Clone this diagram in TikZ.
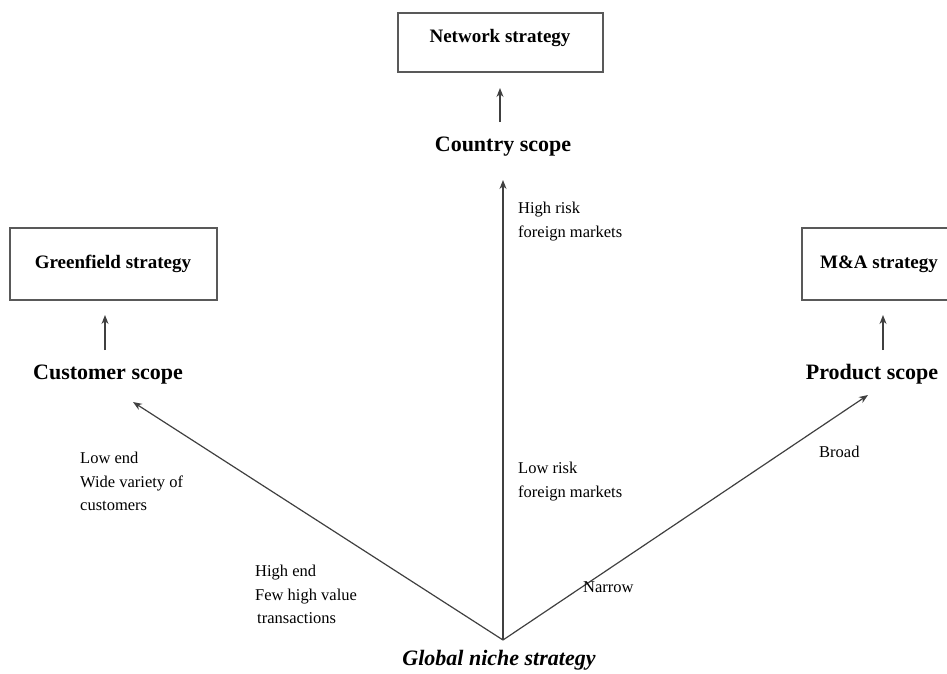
\documentclass[tikz,border=0pt]{standalone}
\usepackage{fontspec}
\setmainfont{Liberation Serif}
\usetikzlibrary{arrows.meta}
\begin{document}
\begin{tikzpicture}[x=1pt,y=-1pt,
  box/.style={draw=black!65,line width=1.3pt,inner sep=0pt},
  boxtext/.style={font=\fontsize{19}{21}\selectfont\bfseries},
  scopetext/.style={font=\fontsize{22}{24}\selectfont\bfseries,inner sep=0pt},
  lbl/.style={font=\fontsize{16.5}{23.5}\selectfont,align=left,anchor=north west,inner sep=0pt},
  arr/.style={draw=black!75,line width=1.2pt,-{Stealth[length=9pt,width=7pt]}}]
\useasboundingbox (0,0) rectangle (947,673);
\begin{scope}
\clip (0,0) rectangle (947,673);
% boxes
\draw[box] (398,13) rectangle (603,72);
\node[boxtext] (net) at (500,38) {Network strategy};
\coordinate (netb) at (500,88);
\draw[box] (10,228) rectangle (217,300);
\node[boxtext] (green) at (113,264) {Greenfield strategy};
\coordinate (greenb) at (105,315);
\draw[box] (802,228) rectangle (960,300);
\node[boxtext] (ma) at (879,264) {M\&A strategy};
\coordinate (mab) at (883,315);
% scopes
\node[scopetext] (country) at (503,147) {Country scope};
\node[scopetext] (customer) at (108,375) {Customer scope};
\node[scopetext] (product) at (872,374) {Product scope};
\coordinate (cs) at (500,122);
\coordinate (cus) at (105,350);
\coordinate (ps) at (883,350);
\draw[arr] (cs) -- (netb);
\draw[arr] (cus) -- (greenb);
\draw[arr] (ps) -- (mab);
% origin
\coordinate (o) at (503,640);
\coordinate (top) at (503,180);
\coordinate (left) at (133,402);
\coordinate (right) at (868,395);
\draw[arr] (o) -- (top);
\draw[arr] (o) -- (left);
\draw[arr] (o) -- (right);
\node[font=\fontsize{22}{24}\selectfont\bfseries\itshape,inner sep=0pt] (gns) at (499,660) {Global niche strategy};
% labels
\node[lbl] (hr) at (518,202) {High risk\\foreign markets};
\node[lbl] (lr) at (518,462) {Low risk\\foreign markets};
\node[lbl] (le) at (80,452) {Low end\\Wide variety of\\customers};
\node[lbl] (he) at (255,565) {High end\\Few high value\\\hspace*{2pt}transactions};
\node[lbl] (nar) at (583,581) {Narrow};
\node[lbl] (br) at (819,446) {Broad};
\end{scope}
\end{tikzpicture}
\end{document}
